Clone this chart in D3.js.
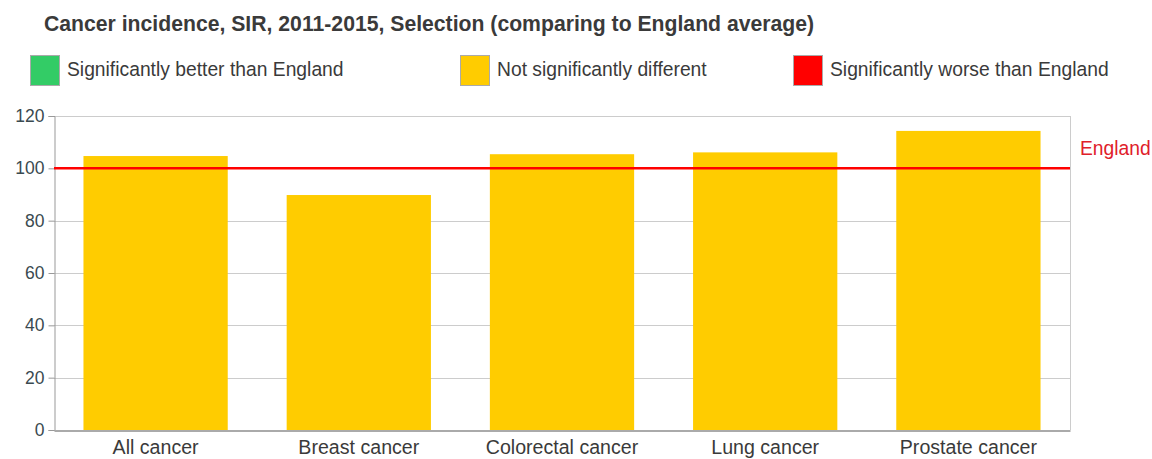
<!DOCTYPE html>
<html><head><meta charset="utf-8">
<script src="https://cdn.jsdelivr.net/npm/d3@7"></script>
<style>
body{margin:0;background:#fff;}
text{font-family:"Liberation Sans",Arial,sans-serif;}
</style></head>
<body><svg id="c" width="1152" height="459"></svg>
<script>
const title = "Cancer incidence, SIR, 2011-2015, Selection (comparing to England average)";
const categories = ["All cancer","Breast cancer","Colorectal cancer","Lung cancer","Prostate cancer"];
const values = [104.7, 89.8, 105.4, 106.1, 114.3];
const yTicks = [0,20,40,60,80,100,120];
const englandValue = 100;
const legendLabels = ["Significantly better than England","Not significantly different","Significantly worse than England"];
const legendColors = ["#33cc66","#ffcc00","#ff0000"];

const svg = d3.select("#c");
const m = {l:54, r:82, t:116, b:29};
const W = 1152, H = 459;
const x = d3.scaleBand().domain(categories).range([m.l, W-m.r]).paddingInner(0.29).paddingOuter(0.145);
const y = d3.scaleLinear().domain([0,120]).range([H-m.b, m.t]);

svg.append("text").attr("x",44).attr("y",31).attr("font-size",21.2).attr("font-weight","bold")
  .attr("fill","#3a3a3a").text(title);

const legX = [30, 460, 793];
legendLabels.forEach((t,i)=>{
  svg.append("rect").attr("x",legX[i]+0.5).attr("y",55.5).attr("width",29).attr("height",30)
    .attr("fill",legendColors[i]).attr("stroke","#aaa").attr("stroke-width",1);
  svg.append("text").attr("x",legX[i]+37).attr("y",76).attr("font-size",19.3).attr("fill","#3a3a3a").text(t);
});

// gridlines
svg.append("g").selectAll("line").data(yTicks).join("line")
  .attr("x1",m.l).attr("x2",W-m.r).attr("y1",d=>Math.round(y(d))+0.5).attr("y2",d=>Math.round(y(d))+0.5)
  .attr("stroke","#ccc").attr("stroke-width",1);
// right border
svg.append("line").attr("x1",W-m.r+0.5).attr("x2",W-m.r+0.5).attr("y1",y(120)).attr("y2",y(0))
  .attr("stroke","#ccc");

// bars
svg.append("g").selectAll("rect").data(values).join("rect")
  .attr("x",(d,i)=>x(categories[i])).attr("width",x.bandwidth())
  .attr("y",d=>y(d)).attr("height",d=>y(0)-y(d)).attr("fill","#ffcc00");

// y axis
const ya = d3.axisLeft(y).tickValues(yTicks).tickSize(6).tickPadding(4);
const gy = svg.append("g").attr("transform",`translate(${m.l+0.5},0)`).call(ya);
gy.select(".domain").attr("stroke","#999");
gy.selectAll(".tick line").attr("stroke","#999");
gy.selectAll("text").attr("font-size",17.5).attr("fill","#3a4a50").attr("font-family","Liberation Sans,Arial,sans-serif");

// x axis
const xa = d3.axisBottom(x).tickSize(0).tickPadding(10);
const gx = svg.append("g").attr("transform",`translate(0,${Math.round(y(0))+0.5})`).call(xa);
gx.select(".domain").attr("stroke","#aaa").attr("stroke-width",2);
gx.selectAll("text").attr("font-size",19.6).attr("fill","#3a3a3a").attr("font-family","Liberation Sans,Arial,sans-serif");

// England line
svg.append("line").attr("x1",m.l).attr("x2",W-m.r).attr("y1",y(englandValue)).attr("y2",y(englandValue))
  .attr("stroke","#ff0000").attr("stroke-width",2.5);
svg.append("text").attr("x",W-m.r+10).attr("y",y(englandValue)-13).attr("font-size",19.3)
  .attr("fill","#e0202a").text("England");
</script></body></html>
